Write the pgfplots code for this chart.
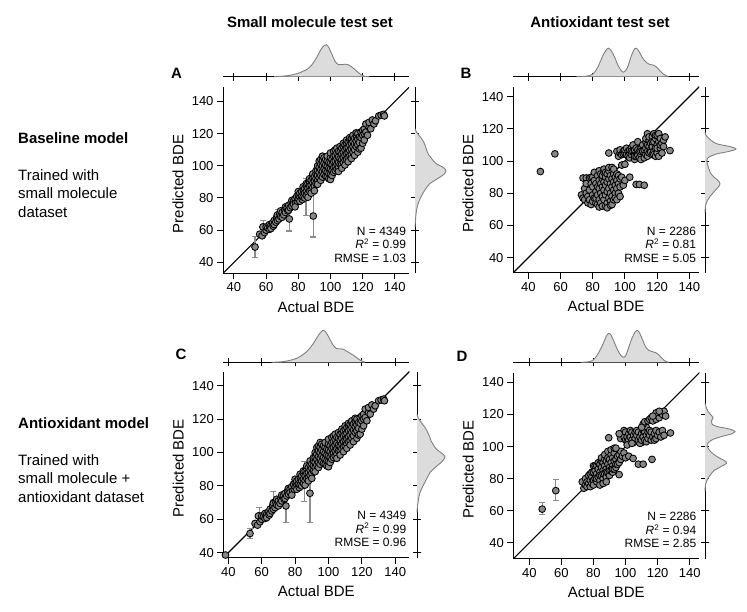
\documentclass[border=0pt]{standalone}
\usepackage{fontspec}
\setmainfont{Liberation Sans}
\usepackage{pgfplots}
\usepackage{pgfplotstable}
\pgfplotsset{compat=1.18}
\definecolor{ptgray}{HTML}{878787}
\definecolor{errgray}{HTML}{8C8C8C}
\definecolor{kdefill}{HTML}{DCDCDC}
\definecolor{kdeline}{HTML}{808080}

\pgfplotstableread{
x y
56 57.5
57.5 56.5
58 62
59 58.5
60 60
60 62
61 61.5
62 60.5
62 63.5
63 63
63 61
64 64.5
64.5 62.5
65 66
65 63.5
66 65
66.5 68
67 69.5
67 66
68 67
68.5 70
69 68.5
69 72
70 71
70 68
71 69.5
71.5 72.5
72 71
72 74.5
73 74
73.5 72
74 75.5
74 72.5
75 74
75.5 77
76 75
76 78.5
77 78
77 76
78 79.5
78.5 77
78 74.5
79 81
79.5 78
80 82
80 79.5
80 84
81 80.5
81 83
81 78
82 84
82 81
82.5 79
83 85.5
83 82.5
83 87
83 80.5
84 86
84 83
84 80
85 87.5
85 84
85 81.5
85 89
86 89
86 86
86 83
86 80.5
87 90
87 87.5
87 84.5
87 92
88 91
88 88
88 85
88 83
89 92.5
89 89.5
89 86.5
89 95
90 93
90 90.5
90 87.5
90 84.5
91 95
91 92
91 89
91 97
92 97
92 94
92 91
92 88.5
92 100
93 103
93 99
93 96
93 92.5
94 104
94 101
94 97.5
94 94
94 91
95 103
95 100
95 96.5
95 93
95 106
96 105
96 101.5
96 98
96 94.5
97 104
97 100.5
97 97
97 93.5
98 103
98 99.5
98 96
98 93
98 106
99 102
99 98.5
99 95
99 92
100 105
100 101.5
100 98
100 94.5
100 91.5
100 108
101 104
101 100.5
101 97
101 94
102 106
102 102.5
102 99
102 96
102 109
103 110
103 106.5
103 103
103 99.5
103 97
104 108
104 104.5
104 101
104 98
104 111
105 109
105 105.5
105 102
105 99
105 96.5
106 108.5
106 104.5
106 101
106 112
107 111
107 107.5
107 104
107 101
107 98.5
108 112
108 108.5
108 105
108 102
108 114
109 113
109 110
109 106.5
109 103.5
109 100.5
110 114
110 111
110 107.5
110 104
110 116
111 115
111 111.5
111 108
111 105
111 102.5
112 116
112 113
112 109.5
112 106.5
112 117.5
113 117
113 114
113 110.5
113 107
113 104.5
114 118
114 115
114 112
114 108.5
114 119
115 117
115 113.5
115 110
115 106.5
116 119
116 115.5
116 112
116 120.5
117 120
117 116.5
117 113
117 108.5
118 118
118 114.5
118 110.5
119 121
119 117.5
119 111
120 122
120 119
120 114
121 123
121 120
121 116
122 126
122 121
123 119
124 124
124 127
125 123
126 128.5
127 126
128 128
130 131
131.5 131.5
133 132
133.5 131
}\dataSmall

\pgfplotstableread{
x y
47.5 93.5
56.5 104.5
73 79
74 77
74 89.5
76 89.5
75 76
75 83
76 80
76 86
77 74
77 78
78 82
78 76
78 89.5
79 73
79 86
79 90
80 75
80 79
80 84
80 90
81 77
81 88
81 93
82 74
82 81
82 86
82 77
83 79
83 91
83 73
83 84
84 76
84 83
84 88
84 71.5
84 94
85 74
85 80
85 86
85 92
86 72
86 78
86 84
86 89
86 91
87 76
87 82
87 87
87 93
87 95
88 72
88 79
88 85
88 90
88 93
89 74
89 81
89 87
89 92
89 71
90 77
90 83
90 89
90 94
90 96
91 75
91 80
91 86
91 91
91 72.5
92 73
92 78
92 84
92 89
92 96
93 76
93 82
93 87
93 92
93 95
94 80
94 85
94 90
94 77
95 76
95 83
95 88
95 92
96 86
96 91
96 80
97 84
97 89
97 78
98 90
99 85
100 88
98 97.5
100 98
103 90
107 85.5
109 85.5
112 85
90 105
95 106
96 103
97 105
97 107
98 104
99 106
99 104.5
100 105
100 107
101 104
101 108
102 106
102 103
103 105
103 107
103 102
104 104
104 108
104 106
105 106
105 110
106 105
106 107
106 101
106 103
107 103
107 108
108 105
108 107
108 112
108 103.5
109 102
109 106
110 104
110 108
110 101
110 106
111 106
111 110
112 105
112 107
112 102
113 104
113 108
113 112
113 114
114 106
114 110
114 117
114 103
115 105
115 109
115 113
115 115
116 107
116 111
116 105.5
117 104
117 109
117 115
117 112
118 106
118 112
118 117
118 104
119 108
119 114
119 103
119 116
120 105
120 110
120 116
120 108
121 112
121 117
121 103
122 108
122 114
122 110
123 105
123 111
124 113
124 109
125 115
128 106.5
}\dataBAnti

\pgfplotstableread{
x y
73 78
74 74
75 76
75 80
76 75
76 78
77 82
77 77
78 79
78 75
78 83
79 81
79 77
79 84
80 84
80 79
80 88
80 76
81 80
81 85
81 88
82 78
82 83
82 88
82 80
83 81
83 86
83 90
84 79
84 84
84 89
84 76
84 82
85 82
85 87
85 91
85 93
86 80
86 85
86 90
86 77
86 83
87 83
87 88
87 92
87 95
88 81
88 86
88 91
88 78
88 84
89 84
89 89
89 93
89 97
90 82
90 87
90 92
90 85
91 85
91 90
91 95
91 98
92 84
92 88
92 93
92 86
93 86
93 91
93 96
93 99
94 87
94 92
94 89
95 89
95 94
96 90
96 95
97 92
97 97
96 82.5
98 94
99 96
100 93
102 94
104.7 92.6
108 89
111 89
116.5 92
94 99
89.5 105.5
110 102.5
97 105
98 108
99 106
99 110
100 104
100 109
101 106
101 103
102 108
102 104
103 106
103 110
104 109
104 104
105 107
105 102.5
106 105
106 109
107 107
107 110
108 104
108 109
109 106
109 102
110 108
110 104
111 106
111 110
112 109
112 104
113 107
113 103
113 112
114 105
114 109
115 107
115 110
116 104
116 109
117 106
118 108
118 104
119 105
119 110
120 107
121 109
122 106
123 110
124 107
128 108.5
111 114
112 115.5
114 116
115 117
116 118
117 116
118 119
119 117
120 120
121 118
122 121
123 120
124 122
125 119
119 121
121 122
117 119
110 112
101 101
104 102
96 108
}\dataDAnti

\tikzset{
  statnode/.style={anchor=south east, align=right, inner sep=0pt,
    font=\fontsize{12}{13.5}\selectfont},
}
\pgfplotsset{
  mainax/.style={
    scale only axis, width=186pt, height=186pt,
    axis x line*=bottom, axis y line*=left,
    axis line style={line width=1pt, black},
    tick align=outside, major tick length=6pt,
    every tick/.style={black, line width=1pt},
    xtick={40,60,...,140}, ytick={40,60,...,140},
    ticklabel style={font=\fontsize{13}{13}\selectfont},
    /pgf/number format/assume math mode=true,
    xlabel={Actual BDE}, ylabel={Predicted BDE},
    label style={font=\fontsize{15}{15}\selectfont},
    xlabel style={at={(axis description cs:0.5,-0.18)}, anchor=center},
    ylabel style={at={(axis description cs:-0.242,0.48)}, anchor=center},
    anchor=south west,
  },
  pts/.style={only marks, mark=*, mark size=3.4pt,
    mark options={fill=ptgray, draw=black, line width=0.85pt}},
  errpts/.style={only marks, mark=*, mark size=3.4pt,
    mark options={fill=ptgray, draw=black, line width=0.85pt},
    error bars/.cd, y dir=both, y explicit,
    error bar style={errgray, line width=1.3pt},
    error mark options={rotate=90, errgray, mark size=3pt, line width=1.3pt}},
  diag/.style={black, line width=1.1pt, no marks},
  topm/.style={scale only axis, width=186pt, height=40pt, ymin=0, ymax=40,
    axis x line*=bottom, axis y line=none,
    axis line style={line width=1pt, black},
    tick align=center, major tick length=8pt,
    every tick/.style={black, line width=1pt},
    xtick={40,60,...,140}, xticklabels={}, anchor=south west, clip=false},
  rightm/.style={scale only axis, width=40pt, height=186pt, xmin=0, xmax=40,
    axis y line*=left, axis x line=none,
    axis line style={line width=1pt, black},
    tick align=center, major tick length=8pt,
    every tick/.style={black, line width=1pt},
    ytick={40,60,...,140}, yticklabels={}, anchor=south west, clip=false},
  kde/.style={fill=kdefill, draw=kdeline, line width=0.9pt, smooth, no marks},
}

\begin{document}
\begin{tikzpicture}[x=1pt,y=1pt]
\path[use as bounding box] (0,0) rectangle (747,611);

% titles
\node[anchor=base, font=\bfseries\fontsize{15}{15}\selectfont] at (310,583.9) {Small molecule test set};
\node[anchor=base, font=\bfseries\fontsize{15}{15}\selectfont] at (600,583.9) {Antioxidant test set};

% row labels
\node[anchor=base west, inner sep=0pt, font=\bfseries\fontsize{15}{15}\selectfont] at (18,467.6) {Baseline model};
\node[anchor=base west, inner sep=0pt, font=\fontsize{15}{15}\selectfont] at (18,430.6) {Trained with};
\node[anchor=base west, inner sep=0pt, font=\fontsize{15}{15}\selectfont] at (18,412.1) {small molecule};
\node[anchor=base west, inner sep=0pt, font=\fontsize{15}{15}\selectfont] at (18,393.6) {dataset};

\node[anchor=base west, inner sep=0pt, font=\bfseries\fontsize{15}{15}\selectfont] at (18,182.9) {Antioxidant model};
\node[anchor=base west, inner sep=0pt, font=\fontsize{15}{15}\selectfont] at (18,145.6) {Trained with};
\node[anchor=base west, inner sep=0pt, font=\fontsize{15}{15}\selectfont] at (18,127.1) {small molecule +};
\node[anchor=base west, inner sep=0pt, font=\fontsize{15}{15}\selectfont] at (18,108.6) {antioxidant dataset};

% panel letters
\node[font=\bfseries\fontsize{15}{15}\selectfont] at (176.5,537.5) {A};
\node[font=\bfseries\fontsize{15}{15}\selectfont] at (466,537.5) {B};
\node[font=\bfseries\fontsize{15}{15}\selectfont] at (181,257) {C};
\node[font=\bfseries\fontsize{15}{15}\selectfont] at (462,255) {D};

%%%%%%%%%%%%%%%% Panel A
\begin{axis}[mainax, at={(223pt,337.7pt)}, xmin=33.2, xmax=148.8, ymin=33.2, ymax=148.8]
\addplot[diag] coordinates {(0,0) (200,200)};
\addplot[errpts] table[x=x, y=y, y error plus=ep, y error minus=em, row sep=\\] {
x y ep em\\
53.1 49.5 6.7 6.5\\
58.2 62 4.1 6.3\\
67.6 69.5 3.3 3.4\\
74.4 67 6.4 7.5\\
84.8 80.6 11.4 11.4\\
89.3 68.8 13.5 13.1\\
};
\addplot[pts] table[x=x,y=y] {\dataSmall};
\node[statnode] at (rel axis cs:0.985,0.057) {N = 4349\\\textit{R}\textsuperscript{2} = 0.99\\RMSE = 1.03};
\end{axis}
\begin{axis}[topm, at={(223pt,534.3pt)}, xmin=33.2, xmax=148.8]
\addplot[kde] coordinates {(65,0) (70,0.5) (75,1.5) (80,3.5) (85,7) (88,11) (91,18) (94,27) (96,31) (97.5,32) (99,29) (101,22) (103,15) (105,12) (107,12) (109,12.5) (111,12) (113,10) (115,7.5) (117,4.5) (119,2) (121,0.5) (124,0)};
\end{axis}
\begin{axis}[rightm, at={(415pt,337.7pt)}, ymin=33.2, ymax=148.8]
\addplot[kde] coordinates {(0,62) (0.5,66) (1,70) (2,74) (4,78) (7,82) (11,86) (15,89) (20,91) (25,93) (29.5,95) (31,96.7) (30,98) (27,99.5) (22,101) (18.5,103) (16,105) (13.5,107) (12,109) (11,111) (10,113) (8.5,115) (6.5,117) (4,119) (1.5,121) (0,123)};
\end{axis}

%%%%%%%%%%%%%%%% Panel B
\begin{axis}[mainax, at={(513pt,338pt)}, xmin=30.5, xmax=146, ymin=30.5, ymax=146]
\addplot[diag] coordinates {(0,0) (200,200)};
\addplot[pts] table[x=x,y=y] {\dataBAnti};
\node[statnode] at (rel axis cs:0.985,0.057) {N = 2286\\\textit{R}\textsuperscript{2} = 0.81\\RMSE = 5.05};
\end{axis}
\begin{axis}[topm, at={(513pt,534.3pt)}, xmin=30.5, xmax=146]
\addplot[kde] coordinates {(70,0) (76,0.5) (80,2.5) (83,9) (86,20) (88,26) (89.7,28.5) (91.5,26) (93.5,20) (95.5,12) (97.5,6.5) (99,4.5) (100.5,6) (102,11) (104,21) (106,28) (107,28.5) (108.5,26) (110.5,20) (112.5,15.5) (115,12.5) (118,11.5) (120,9) (122,5.5) (124,2.5) (127,0)};
\end{axis}
\begin{axis}[rightm, at={(705pt,338pt)}, ymin=30.5, ymax=146]
\addplot[kde] coordinates {(0,68) (0.5,72) (2,75) (5,78) (9,81) (13.5,84) (15,86) (13,88) (9,90) (6,92) (4,95) (2.5,98) (1.8,100.5) (4,102.5) (12,104.5) (24,106) (31,107.5) (25,109) (13,110.5) (8,112) (4,114) (1,116) (0,118)};
\end{axis}

%%%%%%%%%%%%%%%% Panel C
\begin{axis}[mainax, at={(223.3pt,53.3pt)}, xmin=37, xmax=148.4, ymin=37, ymax=148.4]
\addplot[diag] coordinates {(0,0) (200,200)};
\addplot[pts] coordinates {(38.3,38.6)};
\addplot[errpts] table[x=x, y=y, y error plus=ep, y error minus=em, row sep=\\] {
x y ep em\\
53 51.5 2.8 3\\
58.5 62 5 3.5\\
67 70 6.6 2.4\\
74.5 68 4.6 10\\
85.5 84 10.6 13.4\\
88.9 75.6 8 17.6\\
};
\addplot[pts] table[x=x,y=y] {\dataSmall};
\node[statnode] at (rel axis cs:0.985,0.057) {N = 4349\\\textit{R}\textsuperscript{2} = 0.99\\RMSE = 0.96};
\end{axis}
\begin{axis}[topm, at={(223.3pt,248.7pt)}, xmin=37, xmax=148.4]
\addplot[kde] coordinates {(66,0) (72,0.5) (77,2) (81,4) (85,8) (88,12.5) (91,19) (94,27) (96.5,32) (98.5,30) (100.5,24) (102.5,18) (104.5,14) (107,13.5) (109,13) (111,11) (113,9) (115,7) (117,4.5) (119,2) (122,0)};
\end{axis}
\begin{axis}[rightm, at={(417pt,53.3pt)}, ymin=37, ymax=148.4]
\addplot[kde] coordinates {(0,64) (0.5,68) (1.5,72) (3,76) (6,80) (9.5,84) (13,88) (18,91) (24,94) (27,96) (28,97.5) (26,99) (21.5,101) (18,103) (16,105) (14,107) (13,109) (11.5,111) (10,113) (8,115) (5.5,117) (3,119) (1,121) (0,123)};
\end{axis}

%%%%%%%%%%%%%%%% Panel D
\begin{axis}[mainax, at={(513.3pt,52.2pt)}, xmin=30, xmax=146, ymin=30, ymax=146]
\addplot[diag] coordinates {(0,0) (200,200)};
\addplot[pts] table[x=x,y=y] {\dataDAnti};
\addplot[errpts] table[x=x, y=y, y error plus=ep, y error minus=em, row sep=\\] {
x y ep em\\
48 61 4 3.5\\
56.5 72.5 7 6\\
};
\node[statnode] at (rel axis cs:0.985,0.057) {N = 2286\\\textit{R}\textsuperscript{2} = 0.94\\RMSE = 2.85};
\end{axis}
\begin{axis}[topm, at={(513.3pt,248.7pt)}, xmin=30, xmax=146]
\addplot[kde] coordinates {(72,0) (77,0.5) (80,2.5) (83,9) (86,18.5) (88,26) (89.5,29) (91,27) (93,20) (95,12.5) (97,7) (99,5) (100.5,8) (102,15) (104,24) (106,30.5) (107.2,32) (108.5,30) (110.5,23) (112.5,15.5) (114.5,12) (117,10.5) (119,9.5) (121,7) (123,3.5) (125,1) (127,0)};
\end{axis}
\begin{axis}[rightm, at={(705pt,52.2pt)}, ymin=30, ymax=146]
\addplot[kde] coordinates {(0,72) (0.5,76) (2,79) (5,82) (9,85) (16,87.5) (21.5,89.5) (20,91) (14,93) (8,95.5) (4,98) (2,100.5) (3.5,102.5) (8,104.5) (18,106.5) (27,108) (30,109.5) (24,111) (12,112.5) (7,114) (6.5,116) (8,118) (5.5,120) (3,122) (1.5,124) (0,127)};
\end{axis}
\end{tikzpicture}
\end{document}
